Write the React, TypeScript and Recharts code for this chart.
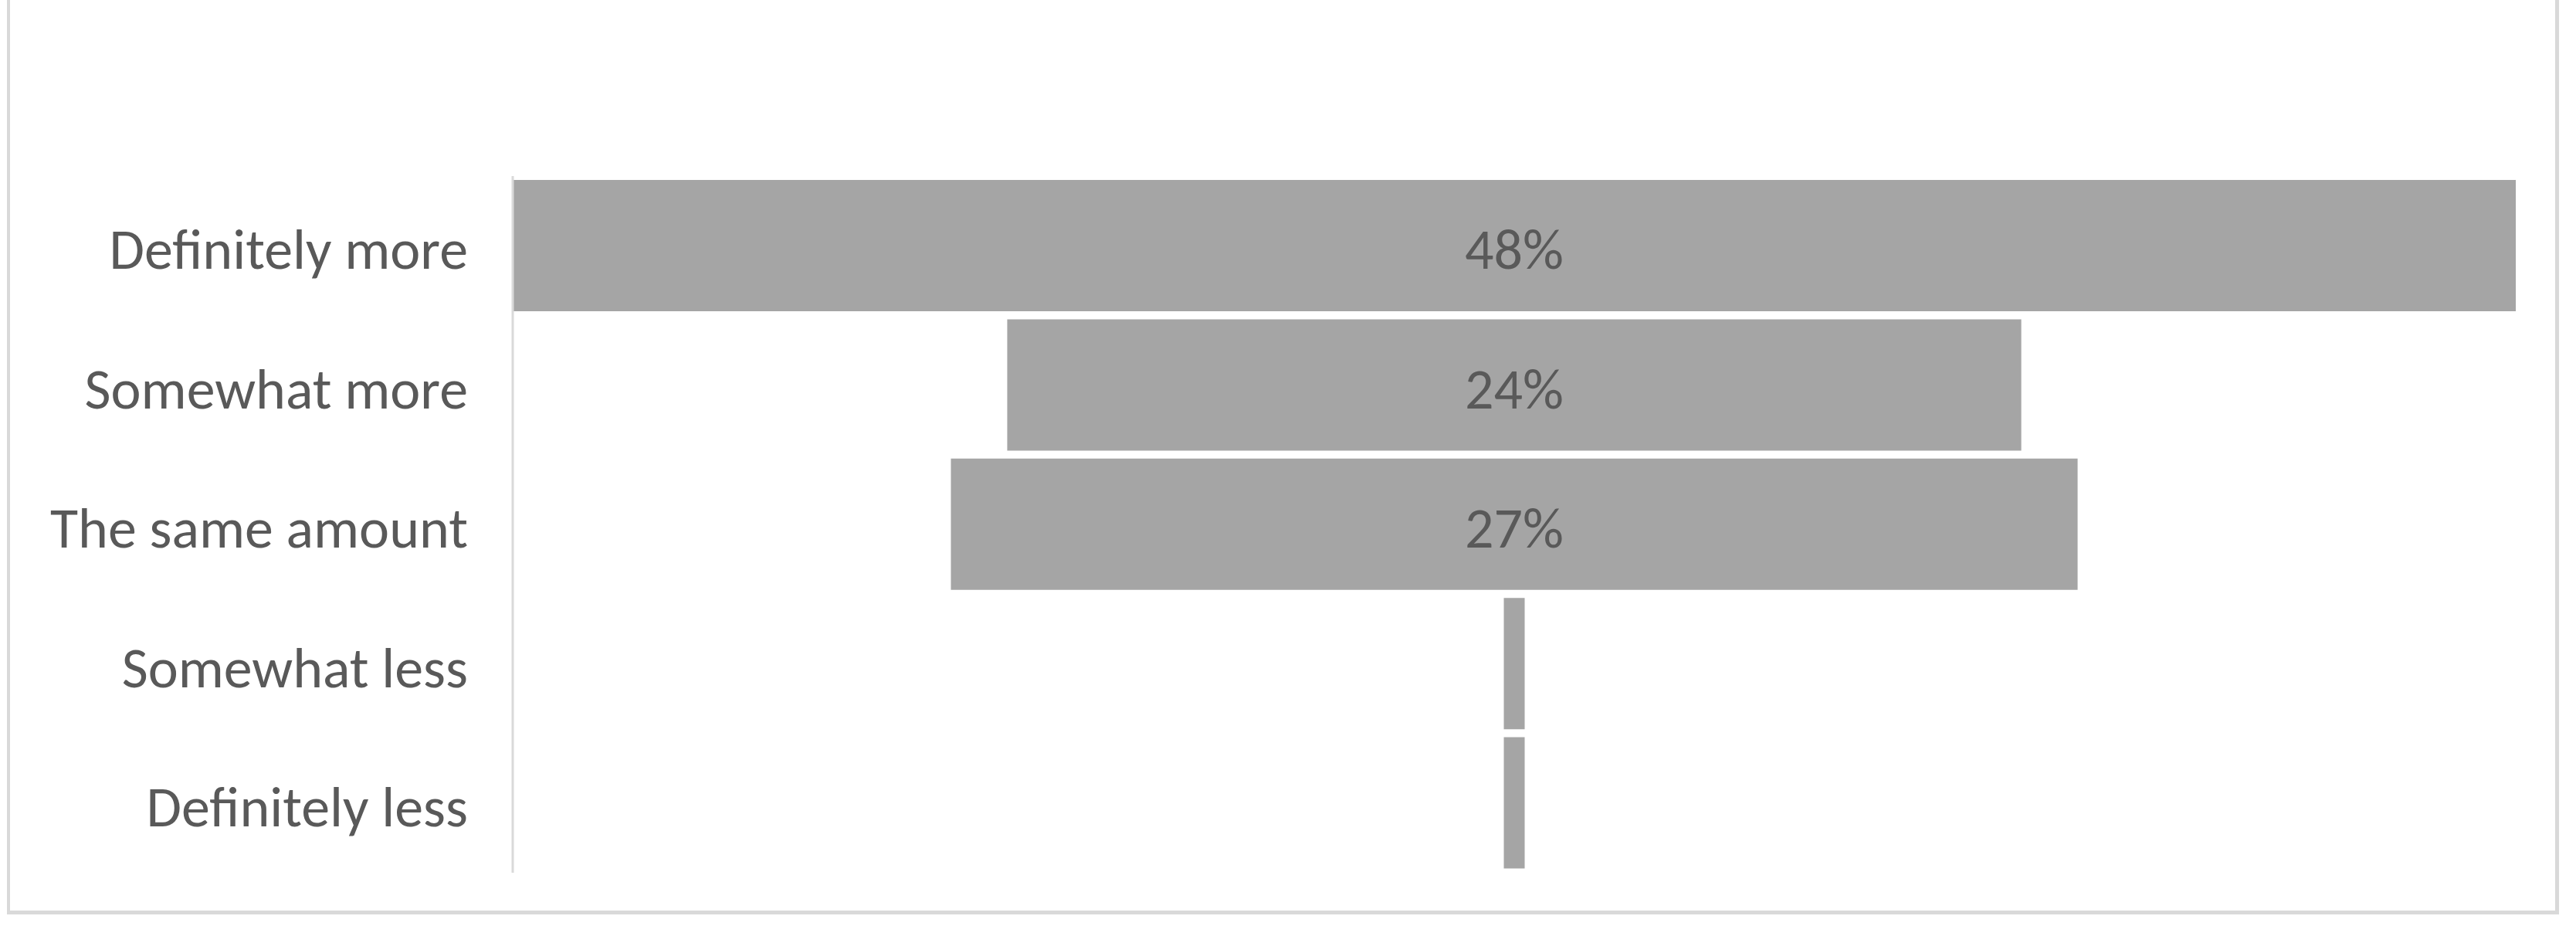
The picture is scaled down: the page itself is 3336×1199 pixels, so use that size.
import { Bar, BarChart, LabelList, XAxis, YAxis } from "recharts";

const categories = [
  "Definitely more",
  "Somewhat more",
  "The same amount",
  "Somewhat less",
  "Definitely less",
];
const shares = [48, 24.3, 27, 0.5, 0.5];

const maxShare = Math.max(...shares);

// funnel: an invisible spacer pushes each bar so it sits centred
const data = categories.map((name, i) => ({
  name,
  pad: (maxShare - shares[i]) / 2,
  share: shares[i],
}));

const FONT = "Calibri, Carlito, Lato, 'Noto Sans', sans-serif";
const TEXT = "#595959";
const GRID = "#d9d9d9";

function pctLabel(v: unknown) {
  const n = Number(v);
  return n >= 1 ? `${Math.round(n)}%` : "";
}

export default function App() {
  return (
    <div
      style={{
        position: "absolute",
        left: 0,
        top: 0,
        width: 3336,
        height: 1199,
        background: "#fff",
        overflow: "hidden",
      }}
    >
      <div
        style={{
          position: "absolute",
          left: 9,
          top: -20,
          width: 3305,
          height: 1204,
          borderLeft: `4px solid ${GRID}`,
          borderRight: `5px solid ${GRID}`,
          borderBottom: `5px solid ${GRID}`,
          borderTop: `4px solid ${GRID}`,
          boxSizing: "border-box",
        }}
      />
      <div style={{ position: "absolute", left: 0, top: 0 }}>
        <BarChart
          width={3336}
          height={1199}
          data={data}
          layout="vertical"
          margin={{ top: 228, right: 78, bottom: 69, left: 0 }}
          barCategoryGap={5}
        >
          <XAxis type="number" domain={[0, maxShare]} hide />
          <YAxis
            type="category"
            dataKey="name"
            width={664}
            tickSize={0}
            tickMargin={58}
            tickLine={false}
            axisLine={{ stroke: GRID, strokeWidth: 3 }}
            tick={{ fill: TEXT, fontSize: 74, fontFamily: FONT, dy: 4 }}
          />
          <Bar dataKey="pad" stackId="f" fill="transparent" isAnimationActive={false} />
          <Bar dataKey="share" stackId="f" fill="#a5a5a5" isAnimationActive={false}>
            <LabelList
              dataKey="share"
              position="center"
              formatter={pctLabel}
              fill={TEXT}
              fontSize={74}
              fontFamily={FONT}
              dy={4}
            />
          </Bar>
        </BarChart>
      </div>
    </div>
  );
}
